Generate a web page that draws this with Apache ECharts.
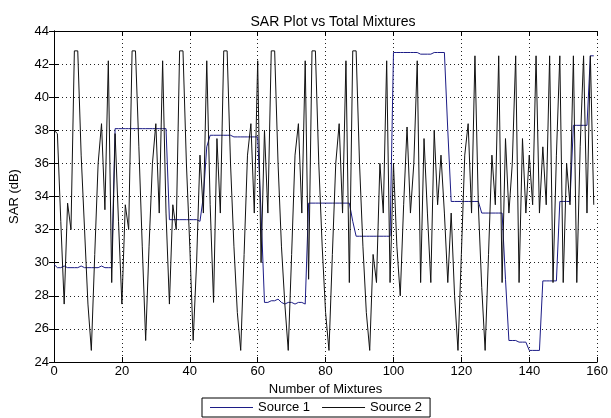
<html>
<head>
<meta charset="utf-8">
<script type="text/javascript" src="https://cdn.jsdelivr.net/npm/echarts@6/dist/echarts.min.js"></script>
</head>
<body style="margin:0;background:#fff;">
	<div id="chart" style="width: 611px; height: 418px;"></div>
	<script type="text/javascript">
		// tick labels
		var xTicks = [0, 20, 40, 60, 80, 100, 120, 140, 160];
		var yTicks = [24, 26, 28, 30, 32, 34, 36, 38, 40, 42, 44];

		// Source 1 (blue), mixtures 0..159
		var source1 = [
			29.9, 29.7, 29.7, 29.8, 29.7, 29.7, 29.7, 29.7, 29.8, 29.7,
			29.7, 29.7, 29.7, 29.7, 29.8, 29.7, 29.7, 29.7, 38.1, 38.1,
			38.1, 38.1, 38.1, 38.1, 38.1, 38.1, 38.1, 38.1, 38.1, 38.1,
			38.1, 38.1, 38.1, 38.1, 32.6, 32.6, 32.6, 32.6, 32.6, 32.6,
			32.6, 32.6, 32.6, 32.5, 34.0, 37.0, 37.7, 37.7, 37.7, 37.7,
			37.7, 37.7, 37.7, 37.6, 37.6, 37.6, 37.6, 37.6, 37.6, 37.6,
			37.6, 33.0, 27.6, 27.6, 27.7, 27.7, 27.8, 27.6, 27.5, 27.6,
			27.6, 27.5, 27.6, 27.6, 27.5, 33.6, 33.6, 33.6, 33.6, 33.6,
			33.6, 33.6, 33.6, 33.6, 33.6, 33.6, 33.6, 33.6, 32.5, 31.6,
			31.6, 31.6, 31.6, 31.6, 31.6, 31.6, 31.6, 31.6, 31.6, 31.6,
			42.7, 42.7, 42.7, 42.7, 42.7, 42.7, 42.7, 42.7, 42.6, 42.6,
			42.6, 42.6, 42.7, 42.7, 42.7, 42.7, 38.0, 33.7, 33.7, 33.7,
			33.7, 33.7, 33.7, 33.7, 33.7, 33.7, 33.0, 33.0, 33.0, 33.0,
			33.0, 33.0, 33.0, 29.0, 25.3, 25.3, 25.3, 25.2, 25.2, 25.2,
			24.7, 24.7, 24.7, 24.7, 28.9, 28.9, 28.9, 28.9, 28.9, 33.7,
			33.7, 33.7, 33.7, 38.3, 38.3, 38.3, 38.3, 38.3, 42.5, 42.5
		];

		// Source 2 (black), mixtures 0..159
		var source2 = [
			38.0, 37.8, 32.5, 27.5, 33.6, 32.0, 42.8, 42.8, 36.5, 32.0,
			27.5, 24.7, 30.5, 36.0, 38.4, 33.2, 42.2, 28.8, 37.8, 32.5,
			27.5, 33.5, 32.0, 42.8, 42.8, 37.0, 31.0, 25.3, 31.0, 36.0,
			38.4, 33.0, 42.2, 33.0, 27.5, 33.5, 32.0, 42.8, 42.8, 36.0,
			31.0, 25.3, 30.0, 36.5, 33.0, 42.2, 33.5, 27.6, 37.5, 33.0,
			42.8, 42.8, 36.0, 31.0, 27.0, 24.7, 30.5, 36.5, 38.4, 33.0,
			42.2, 30.0, 38.0, 33.0, 42.8, 42.8, 36.0, 31.0, 27.5, 24.7,
			30.5, 36.5, 38.4, 33.0, 42.2, 29.0, 42.8, 42.8, 36.0, 31.0,
			27.0, 24.7, 30.5, 36.0, 38.4, 33.0, 42.2, 28.8, 42.8, 42.8,
			36.0, 31.0, 27.0, 24.7, 30.5, 28.8, 36.0, 33.0, 42.2, 28.8,
			36.0, 31.0, 28.0, 33.5, 38.2, 33.0, 36.0, 42.2, 28.8, 37.5,
			33.0, 28.8, 38.0, 33.5, 36.5, 33.0, 28.8, 33.0, 28.0, 24.7,
			30.5, 36.5, 38.4, 33.0, 42.5, 33.5, 28.5, 24.7, 30.5, 36.5,
			33.5, 42.5, 28.8, 37.5, 33.0, 36.0, 42.5, 28.8, 37.5, 33.0,
			36.5, 33.5, 42.5, 33.0, 37.0, 33.5, 42.5, 28.8, 36.5, 42.5,
			28.8, 36.0, 33.5, 42.5, 28.8, 37.0, 42.5, 33.0, 42.5, 33.5
		];

		function toPairs(values) {
			var out = [];
			for (var i = 0; i < values.length; i++) {
				out.push([i, values[i]]);
			}
			return out;
		}

		var font = 'Liberation Sans, Arial, sans-serif';
		var gridLine = { show: true, lineStyle: { color: '#222', type: [1, 3], width: 1 } };

		var myChart = echarts.init(document.getElementById('chart'));
		var option = {
			backgroundColor: '#fff',
			animation: false,
			textStyle: { fontFamily: font, color: '#000' },
			title: {
				text: 'SAR Plot vs Total Mixtures',
				left: 328,
				textAlign: 'center',
				top: 10,
				textStyle: { fontSize: 14, fontWeight: 'normal', color: '#000', fontFamily: font }
			},
			legend: {
				data: [
					{ name: 'Source 1', icon: 'rect' },
					{ name: 'Source 2', icon: 'rect' }
				],
				left: 202,
				top: 398,
				orient: 'horizontal',
				itemWidth: 43,
				itemHeight: 1,
				itemGap: 12,
				padding: [3, 8, 3, 8],
				borderColor: '#000',
				borderWidth: 1,
				backgroundColor: '#fff',
				textStyle: { fontSize: 13, color: '#000', fontFamily: font }
			},
			grid: { left: 52, right: 12, top: 31, bottom: 56, containLabel: false },
			xAxis: [{
				type: 'value',
				min: xTicks[0],
				max: xTicks[xTicks.length - 1],
				interval: 20,
				name: 'Number of Mixtures',
				nameLocation: 'middle',
				nameGap: 19,
				nameTextStyle: { fontSize: 13, color: '#000' },
				axisLine: { lineStyle: { color: '#000', width: 1 } },
				axisTick: { inside: true, length: 5, lineStyle: { color: '#000' } },
				axisLabel: { fontSize: 13, color: '#000', margin: 3 },
				splitLine: gridLine
			}, {
				type: 'value',
				position: 'top',
				min: xTicks[0],
				max: xTicks[xTicks.length - 1],
				interval: 20,
				axisLine: { show: true, lineStyle: { color: '#000', width: 1 } },
				axisTick: { inside: true, length: 5, lineStyle: { color: '#000' } },
				axisLabel: { show: false },
				splitLine: { show: false }
			}],
			yAxis: [{
				type: 'value',
				min: yTicks[0],
				max: yTicks[yTicks.length - 1],
				interval: 2,
				name: 'SAR (dB)',
				nameLocation: 'middle',
				nameGap: 33,
				nameTextStyle: { fontSize: 13, color: '#000' },
				axisLine: { show: true, lineStyle: { color: '#000', width: 1 } },
				axisTick: { show: true, inside: true, length: 5, lineStyle: { color: '#000' } },
				axisLabel: { fontSize: 13, color: '#000', margin: 5 },
				splitLine: gridLine
			}, {
				type: 'value',
				position: 'right',
				min: yTicks[0],
				max: yTicks[yTicks.length - 1],
				interval: 2,
				axisLine: { show: true, lineStyle: { color: '#000', width: 1 } },
				axisTick: { show: true, inside: true, length: 5, lineStyle: { color: '#000' } },
				axisLabel: { show: false },
				splitLine: { show: false }
			}],
			series: [{
				name: 'Source 1',
				type: 'line',
				data: toPairs(source1),
				symbol: 'none',
				lineStyle: { color: '#1c1c86', width: 1 },
				itemStyle: { color: '#1c1c86' }
			}, {
				name: 'Source 2',
				type: 'line',
				data: toPairs(source2),
				symbol: 'none',
				lineStyle: { color: '#111', width: 1 },
				itemStyle: { color: '#111' }
			}]
		};
		myChart.setOption(option);
	</script>
</body>
</html>
